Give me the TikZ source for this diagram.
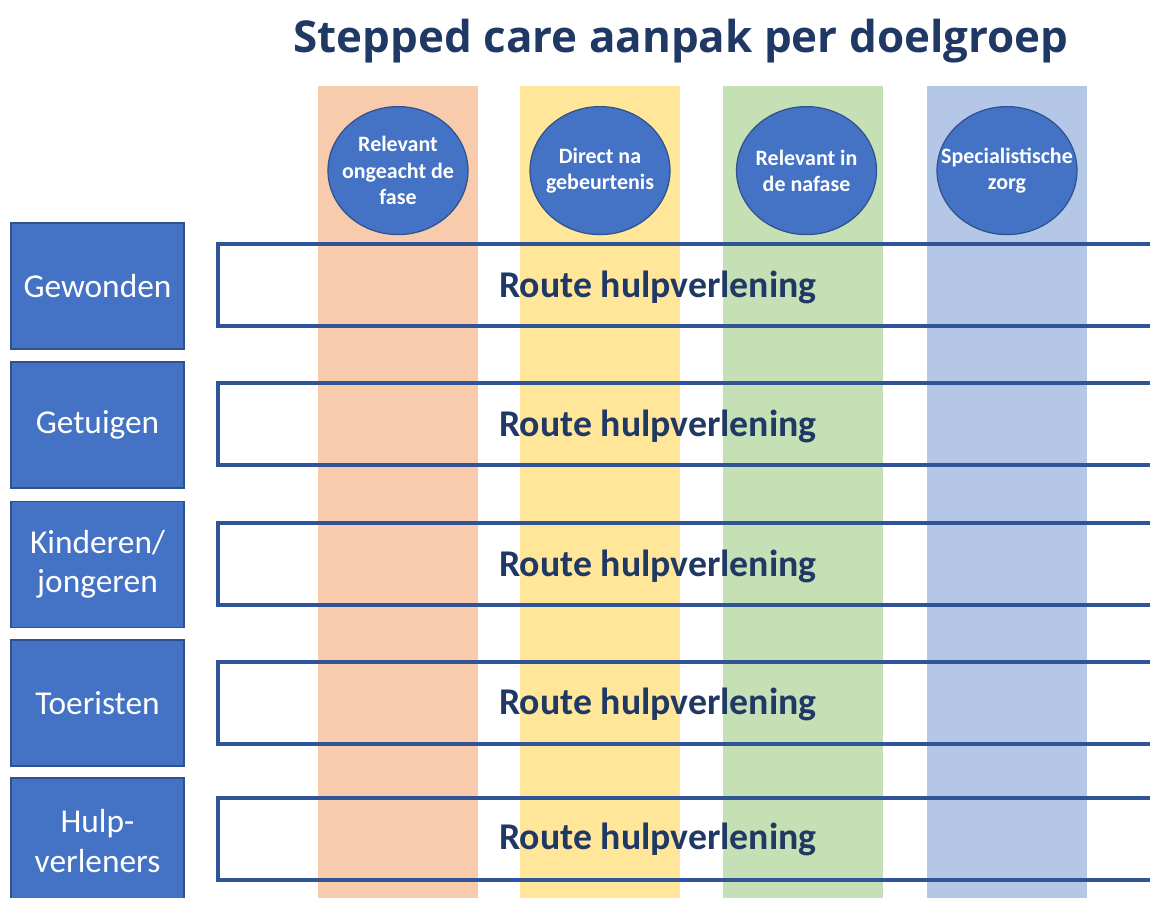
\documentclass[tikz,border=0pt]{standalone}
\usepackage{fontspec}
\setmainfont{Carlito}
\newfontfamily\titlefont{Open Sans}
\usepackage{tikz}
\usetikzlibrary{shapes.geometric, positioning}

\definecolor{boxblue}{HTML}{4472C4}
\definecolor{boxborder}{HTML}{2F528F}
\definecolor{barblue}{HTML}{2F5597}
\definecolor{navy}{HTML}{1F3864}
\definecolor{colorange}{HTML}{F8CBAD}
\definecolor{colyellow}{HTML}{FFE699}
\definecolor{colgreen}{HTML}{C5E0B4}
\definecolor{colblue}{HTML}{B4C7E7}

\begin{document}
\begin{tikzpicture}[x=0.02cm, y=-0.02cm,
    column/.style={rectangle, minimum width=3.2cm, minimum height=16.4cm, inner sep=0pt},
    phase/.style={ellipse, draw=boxborder, line width=0.7pt, fill=boxblue, minimum width=2.8cm, minimum height=2.56cm, inner sep=0pt},
    phasetext/.style={text=white, align=center, inner sep=0pt, font=\bfseries\fontsize{12.5}{15}\selectfont},
    groupbox/.style={rectangle, draw=boxborder, line width=0.6pt, fill=boxblue, text=white, minimum width=3.46cm, minimum height=2.52cm, inner sep=0pt, align=center, font=\fontsize{19}{22.5}\selectfont},
    routebar/.style={rectangle, draw=barblue, line width=2.3pt, minimum width=24cm, minimum height=1.64cm, inner sep=0pt, anchor=west},
    routetext/.style={text=navy, font=\bfseries\fontsize{21.5}{25}\selectfont}]
    \useasboundingbox (0,0) rectangle (1150,898);

    % Title
    \node (title) [text=navy, font=\titlefont\bfseries\fontsize{25}{30}\selectfont] at (681,41) {Stepped care aanpak per doelgroep};

    % Phase columns
    \node (col1) [column, fill=colorange, anchor=north] at (398,86) {};
    \node (col2) [column, fill=colyellow, anchor=north] at (600,86) {};
    \node (col3) [column, fill=colgreen, anchor=north] at (803,86) {};
    \node (col4) [column, fill=colblue, anchor=north] at (1007,86) {};

    % Phase circles
    \node (phase1) [phase, below=0.4cm of col1.north, label={[phasetext]center:Relevant\\ongeacht de\\fase}] {};
    \node (phase2) [phase, below=0.4cm of col2.north, label={[phasetext]center:Direct na\\gebeurtenis}] {};
    \node (phase3) [phase, below=0.4cm of col3.north, xshift=2pt, label={[phasetext]center:Relevant in\\de nafase}] {};
    \node (phase4) [phase, below=0.4cm of col4.north, label={[phasetext]center:Specialistische\\zorg}] {};

    % Target groups
    \node (group1) [groupbox] at (97.5,286) {Gewonden};
    \node (group2) [groupbox] at (97.5,425) {Getuigen};
    \node (group3) [groupbox] at (97.5,564.5) {Kinderen/\\jongeren};
    \node (group4) [groupbox] at (97.5,703) {Toeristen};
    \node (group5) [groupbox] at (97.5,841) {Hulp-\\verleners};

    % Routes
    \node (bar1) [routebar] at (216,285) {};
    \node (bar2) [routebar] at (216,424) {};
    \node (bar3) [routebar] at (216,564) {};
    \node (bar4) [routebar] at (216,703) {};
    \node (bar5) [routebar] at (216,839) {};
    \node (route1) [routetext] at (658,287) {Route hulpverlening};
    \node (route2) [routetext] at (658,426) {Route hulpverlening};
    \node (route3) [routetext] at (658,566) {Route hulpverlening};
    \node (route4) [routetext] at (658,704) {Route hulpverlening};
    \node (route5) [routetext] at (658,839) {Route hulpverlening};
\end{tikzpicture}
\end{document}
